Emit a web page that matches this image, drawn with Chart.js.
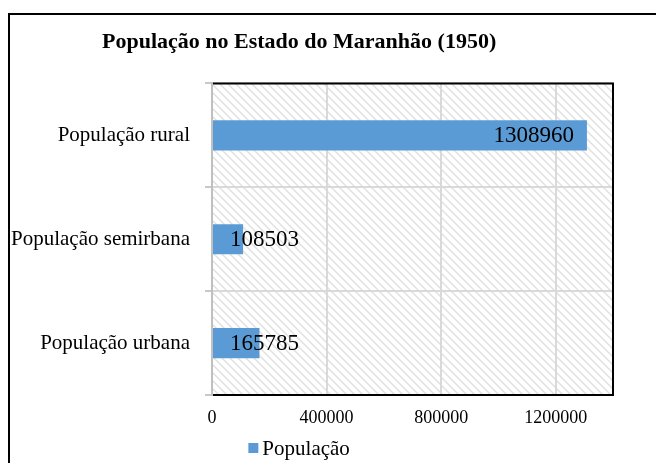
<!DOCTYPE html>
<html>
<head>
<meta charset="utf-8">
<script src="https://cdn.jsdelivr.net/npm/chart.js@4.4.1/dist/chart.umd.min.js"></script>
<style>
  html, body { margin: 0; padding: 0; background: #fff; }
  #wrap { width: 656px; height: 463px; }
</style>
</head>
<body>
<div id="wrap"><canvas id="chart" width="656" height="463"></canvas></div>
<script>
const categories = ["População rural", "População semirbana", "População urbana"];
const population = [1308960, 108503, 165785];
const xTicks = [0, 400000, 800000, 1200000];
const seriesName = "População";
const chartTitle = "População no Estado do Maranhão (1950)";

const SERIF = "'Liberation Serif', 'Times New Roman', serif";
const BAR = "#5B9BD5";

// diagonal hatch used behind the plot
function makeHatch() {
  const c = document.createElement("canvas");
  c.width = 8; c.height = 8;
  const g = c.getContext("2d");
  g.strokeStyle = "#e0e0e0";
  g.lineWidth = 1.4;
  g.beginPath();
  g.moveTo(-2, -2); g.lineTo(10, 10);
  g.moveTo(-2, 6); g.lineTo(2, 10);
  g.moveTo(6, -2); g.lineTo(10, 2);
  g.stroke();
  return g.createPattern(c, "repeat");
}

const plotFrame = {
  id: "plotFrame",
  afterLayout(chart) {
    // title sits further right than the axis labels
    chart.titleBlock.left = 102;
  },
  beforeDraw(chart) {
    const { ctx, chartArea: a } = chart;
    ctx.save();
    ctx.fillStyle = makeHatch();
    ctx.fillRect(a.left, a.top, a.right - a.left, a.bottom - a.top);
    ctx.restore();
  },
  beforeDatasetsDraw(chart) {
    const { ctx, chartArea: a } = chart;
    ctx.save();
    ctx.strokeStyle = "#000";
    ctx.lineWidth = 2;
    ctx.beginPath();
    ctx.moveTo(a.left + 1, a.top);
    ctx.lineTo(a.right, a.top);
    ctx.lineTo(a.right, a.bottom);
    ctx.lineTo(a.left + 1, a.bottom);
    ctx.stroke();
    ctx.restore();
  },
  afterDatasetsDraw(chart) {
    const { ctx } = chart;
    const meta = chart.getDatasetMeta(0);
    ctx.save();
    ctx.font = "23px " + SERIF;
    ctx.fillStyle = "#000";
    ctx.textAlign = "right";
    ctx.textBaseline = "middle";
    meta.data.forEach((bar, i) => {
      const txt = String(population[i]);
      const w = ctx.measureText(txt).width;
      const right = Math.max(bar.x - 13, bar.base + 17 + w);
      ctx.fillText(txt, right, bar.y + 1);
    });
    ctx.restore();
  },
  afterDraw(chart) {
    const { ctx } = chart;
    ctx.save();
    // outer frame of the chart object (runs off the right/bottom)
    ctx.strokeStyle = "#000";
    ctx.lineWidth = 2;
    ctx.strokeRect(9, 14, 800, 600);

    // legend, centred under the title
    const t = chart.titleBlock;
    ctx.font = "bold 22px " + SERIF;
    const titleMid = t.left + ctx.measureText(chartTitle).width / 2;
    ctx.font = "21px " + SERIF;
    const tw = ctx.measureText(seriesName).width;
    const total = 10 + 4 + tw;
    const x0 = titleMid - total / 2;
    const y = 448;
    ctx.fillStyle = BAR;
    ctx.fillRect(x0, y - 5, 10, 10);
    ctx.fillStyle = "#000";
    ctx.textBaseline = "middle";
    ctx.textAlign = "left";
    ctx.fillText(seriesName, x0 + 14, y + 1);
    ctx.restore();
  }
};

const ctx = document.getElementById("chart").getContext("2d");
new Chart(ctx, {
  type: "bar",
  data: {
    labels: categories,
    datasets: [{
      label: seriesName,
      data: population,
      backgroundColor: BAR,
      borderWidth: 0,
      barPercentage: 0.29,
      categoryPercentage: 1
    }]
  },
  options: {
    indexAxis: "y",
    responsive: false,
    animation: false,
    layout: { padding: { left: 10, right: 43, top: 0, bottom: 0 } },
    plugins: {
      legend: { display: false },
      tooltip: { enabled: false },
      title: {
        display: true,
        text: chartTitle,
        align: "start",
        color: "#000",
        font: { family: SERIF, size: 22, weight: "bold", lineHeight: 1.2 },
        padding: { top: 29, bottom: 28 }
      }
    },
    scales: {
      x: {
        min: 0,
        max: 1400000,
        ticks: {
          stepSize: 400000,
          color: "#000",
          padding: 12,
          maxRotation: 0,
          font: { family: SERIF, size: 18 },
          callback: v => String(v)
        },
        afterBuildTicks(scale) {
          scale.ticks = xTicks.map(v => ({ value: v }));
        },
        afterFit(scale) { scale.height = 68; },
        grid: { color: "#d9d9d9", lineWidth: 2, drawTicks: false },
        border: { display: false }
      },
      y: {
        ticks: {
          color: "#000",
          padding: 15,
          font: { family: SERIF, size: 21 }
        },
        afterFit(scale) { scale.width = 202; },
        grid: { color: "#d9d9d9", lineWidth: 2, tickLength: 7, tickColor: "#c8c8c8", offset: true },
        border: { color: "#c0c0c0", width: 2 }
      }
    }
  },
  plugins: [plotFrame]
});
</script>
</body>
</html>
